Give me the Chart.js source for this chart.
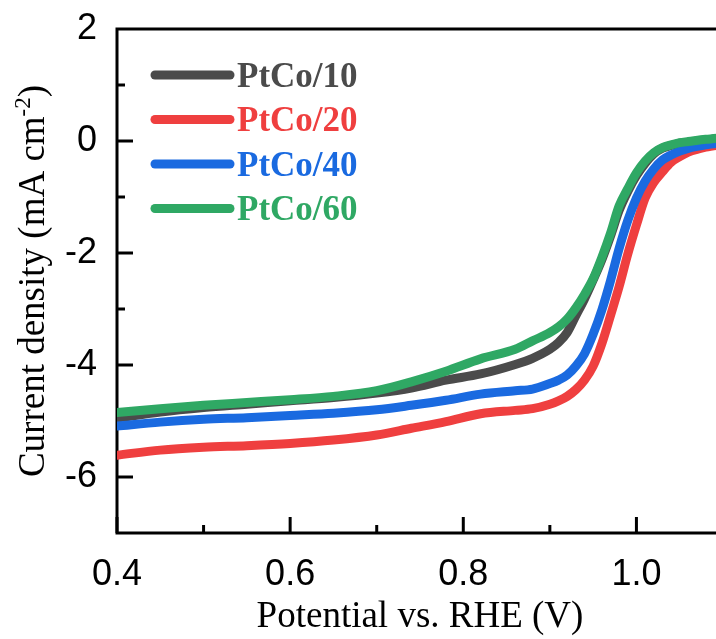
<!DOCTYPE html>
<html>
<head>
<meta charset="utf-8">
<script src="https://cdn.jsdelivr.net/npm/chart.js@4/dist/chart.umd.min.js"></script>
<style>
  html, body { margin: 0; padding: 0; background: #ffffff; }
  #clip { width: 716px; height: 639px; overflow: hidden; position: relative; }
  #wrap { width: 740px; height: 639px; }
</style>
</head>
<body>
<div id="clip"><div id="wrap"><canvas id="c" width="740" height="639"></canvas></div></div>
<script>
// ---- data ----
const potential = [0.40,0.45,0.50,0.55,0.60,0.65,0.70,0.74,0.78,0.82,0.86,0.88,0.90,0.91,0.92,0.93,0.94,0.95,0.96,0.97,0.98,0.99,1.00,1.01,1.02,1.03,1.04,1.05,1.06,1.08,1.10];
const ptco10 = [-4.95,-4.84,-4.76,-4.70,-4.64,-4.58,-4.50,-4.41,-4.27,-4.16,-3.99,-3.88,-3.72,-3.60,-3.42,-3.12,-2.82,-2.48,-2.12,-1.70,-1.24,-0.90,-0.62,-0.40,-0.23,-0.13,-0.08,-0.04,-0.02,0.02,0.05];
const ptco20 = [-5.61,-5.52,-5.47,-5.44,-5.40,-5.34,-5.25,-5.13,-5.01,-4.87,-4.81,-4.78,-4.70,-4.64,-4.56,-4.44,-4.27,-4.02,-3.62,-3.12,-2.60,-2.02,-1.50,-1.02,-0.74,-0.55,-0.38,-0.28,-0.20,-0.11,-0.06];
const ptco40 = [-5.09,-5.02,-4.97,-4.94,-4.90,-4.86,-4.80,-4.72,-4.63,-4.52,-4.46,-4.43,-4.33,-4.27,-4.18,-4.02,-3.80,-3.45,-3.02,-2.50,-1.92,-1.42,-1.02,-0.72,-0.50,-0.34,-0.25,-0.18,-0.13,-0.07,-0.03];
const ptco60 = [-4.85,-4.78,-4.72,-4.67,-4.62,-4.56,-4.46,-4.30,-4.11,-3.89,-3.72,-3.57,-3.42,-3.32,-3.18,-2.98,-2.74,-2.46,-2.08,-1.65,-1.16,-0.85,-0.57,-0.36,-0.21,-0.12,-0.07,-0.03,-0.01,0.03,0.06];

const seriesLabels = ['PtCo/10','PtCo/20','PtCo/40','PtCo/60'];
const seriesColors = ['#4b4b4b','#ef3f3f','#1a6ae0','#2fa864'];
const seriesValues = [ptco10, ptco20, ptco40, ptco60];

const xTickValues = [0.4, 0.6, 0.8, 1.0];
const xTickLabels = ['0.4','0.6','0.8','1.0'];
const xMinorTicks = [0.5, 0.7, 0.9];
const yTickValues = [-6, -4, -2, 0, 2];
const yTickLabels = ['-6','-4','-2','0','2'];
const yMinorTicks = [-5, -3, -1, 1];

const xTitle = 'Potential vs. RHE (V)';
const yTitleMain = 'Current density (mA cm';
const yTitleSup = '-2';
const yTitleEnd = ')';

// ---- plugins ----
const framePlugin = {
  id: 'frame',
  beforeDatasetsDraw(chart) {
    const {ctx, chartArea: ca, scales} = chart;
    ctx.save();
    ctx.strokeStyle = '#000';
    ctx.lineWidth = 3;
    ctx.lineCap = 'square';
    ctx.beginPath();
    ctx.moveTo(ca.left, ca.top); ctx.lineTo(ca.left, ca.bottom);
    ctx.lineTo(ca.right, ca.bottom); ctx.lineTo(ca.right, ca.top);
    ctx.lineTo(ca.left, ca.top);
    ctx.stroke();
    ctx.lineCap = 'butt';
    const xs = scales.x, ys = scales.y;
    const tick = (vals, len, isX) => {
      vals.forEach(v => {
        ctx.beginPath();
        if (isX) {
          const p = xs.getPixelForValue(v);
          ctx.moveTo(p, ca.bottom); ctx.lineTo(p, ca.bottom - len);
        } else {
          const p = ys.getPixelForValue(v);
          ctx.moveTo(ca.left, p); ctx.lineTo(ca.left + len, p);
        }
        ctx.stroke();
      });
    };
    tick(xTickValues, 16, true);
    tick(xMinorTicks, 8, true);
    tick(yTickValues.filter(v => v < 2), 16, false);
    tick(yMinorTicks, 8, false);
    ctx.restore();
  }
};

const legendPlugin = {
  id: 'customLegend',
  afterDraw(chart) {
    const {ctx} = chart;
    ctx.save();
    const x0 = 155, x1 = 230, tx = 237, y0 = 75, dy = 44.5;
    seriesLabels.forEach((lab, i) => {
      const y = y0 + i * dy;
      ctx.strokeStyle = seriesColors[i];
      ctx.lineWidth = 9;
      ctx.lineCap = 'round';
      ctx.beginPath(); ctx.moveTo(x0, y); ctx.lineTo(x1, y); ctx.stroke();
      ctx.fillStyle = seriesColors[i];
      ctx.font = 'bold 35px "Liberation Serif", "Times New Roman", serif';
      ctx.textBaseline = 'alphabetic';
      ctx.textAlign = 'left';
      ctx.fillText(lab, tx, y + 11.5);
    });
    ctx.restore();
  }
};

const yTitlePlugin = {
  id: 'yTitle',
  afterDraw(chart) {
    const {ctx, chartArea: ca} = chart;
    ctx.save();
    const cy = (ca.top + ca.bottom) / 2;
    ctx.translate(44, cy);
    ctx.rotate(-Math.PI / 2);
    ctx.fillStyle = '#000';
    ctx.textBaseline = 'alphabetic';
    ctx.textAlign = 'left';
    const big = '37px "Liberation Serif", "Times New Roman", serif';
    const small = '23px "Liberation Serif", "Times New Roman", serif';
    ctx.font = big; const w1 = ctx.measureText(yTitleMain).width; const w3 = ctx.measureText(yTitleEnd).width;
    ctx.font = small; const w2 = ctx.measureText(yTitleSup).width;
    let x = -(w1 + w2 + w3) / 2;
    ctx.font = big; ctx.fillText(yTitleMain, x, 0); x += w1;
    ctx.font = small; ctx.fillText(yTitleSup, x, -14); x += w2;
    ctx.font = big; ctx.fillText(yTitleEnd, x, 0);
    ctx.restore();
  }
};

// ---- chart ----
const datasets = seriesLabels.map((lab, i) => ({
  label: lab,
  data: potential.map((p, k) => ({x: p, y: seriesValues[i][k]})),
  borderColor: seriesColors[i],
  backgroundColor: seriesColors[i],
  borderWidth: 9,
  pointRadius: 0,
  fill: false,
  cubicInterpolationMode: 'monotone',
  borderCapStyle: 'round',
  borderJoinStyle: 'round',
  clip: 0,
  order: 4 - i
}));

function zeroPad(s) { s.paddingTop = 0; s.paddingBottom = 0; s.paddingLeft = 0; s.paddingRight = 0; }

new Chart(document.getElementById('c'), {
  type: 'line',
  data: { datasets },
  plugins: [framePlugin, legendPlugin, yTitlePlugin],
  options: {
    responsive: false,
    animation: false,
    devicePixelRatio: 1,
    layout: { autoPadding: false, padding: { left: 0, right: 17, top: 29, bottom: 0 } },
    plugins: { legend: { display: false }, tooltip: { enabled: false } },
    scales: {
      x: {
        type: 'linear',
        min: 0.4, max: 1.1,
        afterFit(s) { s.height = 106; zeroPad(s); },
        afterBuildTicks(s) { s.ticks = xTickValues.map(v => ({value: v})); },
        grid: { display: false, drawTicks: false },
        border: { display: false },
        ticks: {
          padding: 20,
          maxRotation: 0,
          autoSkip: false,
          color: '#000',
          font: { family: '"Liberation Sans", Arial, sans-serif', size: 36 },
          callback(v) { const i = xTickValues.findIndex(t => Math.abs(t - v) < 1e-9); return i >= 0 ? xTickLabels[i] : ''; }
        },
        title: {
          display: true,
          text: xTitle,
          color: '#000',
          font: { family: '"Liberation Serif", "Times New Roman", serif', size: 37 },
          padding: { top: 0, bottom: 0 }
        }
      },
      y: {
        type: 'linear',
        min: -7, max: 2,
        afterFit(s) { s.width = 117; zeroPad(s); },
        afterBuildTicks(s) { s.ticks = yTickValues.map(v => ({value: v})); },
        grid: { display: false, drawTicks: false },
        border: { display: false },
        ticks: {
          padding: 20,
          color: '#000',
          font: { family: '"Liberation Sans", Arial, sans-serif', size: 36 },
          callback(v) { const i = yTickValues.indexOf(v); return i >= 0 ? yTickLabels[i] : ''; }
        },
        title: { display: false }
      }
    }
  }
});
</script>
</body>
</html>
